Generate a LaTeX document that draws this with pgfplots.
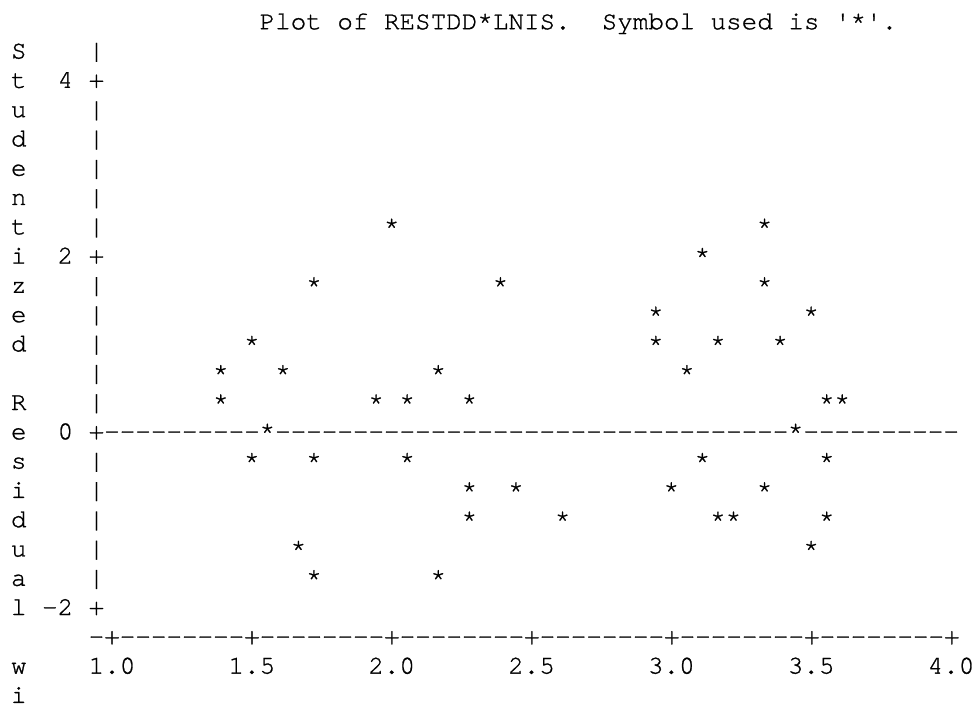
\documentclass[border=0pt]{standalone}
\usepackage{pgfplots}
\pgfplotsset{compat=1.18}
\usepackage{fontspec}
\newfontfamily\mono{TeX Gyre Cursor}[FakeBold=1]
\newcommand{\mfont}{\mono\fontsize{12.96bp}{15bp}\selectfont}
\tikzset{txt/.style={anchor=base west, inner sep=0pt, outer sep=0pt, font=\mfont, yshift=-3.9bp}}
% column c (0 = x of 1.0, 18 columns per unit), row r (13 = zero line, 3 rows per unit)
\newcommand{\R}[3]{\node[txt] at (axis cs:{1+(#1-0.5)/18},{(13-#2)/3}) {#3};}
\begin{document}
\begin{tikzpicture}
\begin{axis}[
  hide axis, scale only axis, clip=false,
  width=489.5bp, height=353bp,
  xmin=0.5995, xmax=4.1001, ymin=-3.1239, ymax=4.9107,
]
\path (rel axis cs:0,0) rectangle (rel axis cs:1,1);
% title
\R{10}{-1}{Plot of RESTDD*LNIS.~~Symbol used is '*'.}
% vertical label
\R{-6}{0}{S}\R{-6}{1}{t}\R{-6}{2}{u}\R{-6}{3}{d}\R{-6}{4}{e}\R{-6}{5}{n}
\R{-6}{6}{t}\R{-6}{7}{i}\R{-6}{8}{z}\R{-6}{9}{e}\R{-6}{10}{d}
\R{-6}{12}{R}\R{-6}{13}{e}\R{-6}{14}{s}\R{-6}{15}{i}\R{-6}{16}{d}
\R{-6}{17}{u}\R{-6}{18}{a}\R{-6}{19}{l}\R{-6}{21}{w}\R{-6}{22}{i}
% y tick labels
\R{-3}{1}{4}\R{-3}{7}{2}\R{-3}{13}{0}\R{-4}{19}{-2}
% vertical axis
\R{-1}{0}{|}\R{-1}{1}{+}\R{-1}{2}{|}\R{-1}{3}{|}\R{-1}{4}{|}\R{-1}{5}{|}
\R{-1}{6}{|}\R{-1}{7}{+}\R{-1}{8}{|}\R{-1}{9}{|}\R{-1}{10}{|}\R{-1}{11}{|}
\R{-1}{12}{|}\R{-1}{13}{+}\R{-1}{14}{|}\R{-1}{15}{|}\R{-1}{16}{|}\R{-1}{17}{|}
\R{-1}{18}{|}\R{-1}{19}{+}
% zero reference line
\R{0}{13}{----------}
\R{11}{13}{---------------------------------}
\R{45}{13}{----------}
% horizontal axis
\R{-1}{20}{-+--------+--------+--------+--------+--------+--------+}
\R{-1}{21}{1.0}\R{8}{21}{1.5}\R{17}{21}{2.0}\R{26}{21}{2.5}
\R{35}{21}{3.0}\R{44}{21}{3.5}\R{53}{21}{4.0}
% data
\addplot[only marks, mark=text, text mark={*}, text mark as node=true,
  text mark style={anchor=base, inner sep=0pt, outer sep=0pt, font=\mfont, yshift=-3.9bp}]
coordinates {
(2.0000,2.3333) (3.3333,2.3333)
(3.1111,2.0000)
(1.7222,1.6667) (2.3889,1.6667) (3.3333,1.6667)
(2.9444,1.3333) (3.5000,1.3333)
(1.5000,1.0000) (2.9444,1.0000) (3.1667,1.0000) (3.3889,1.0000)
(1.3889,0.6667) (1.6111,0.6667) (2.1667,0.6667) (3.0556,0.6667)
(1.3889,0.3333) (1.9444,0.3333) (2.0556,0.3333) (2.2778,0.3333) (3.5556,0.3333) (3.6111,0.3333)
(1.5556,0) (3.4444,0)
(1.5000,-0.3333) (1.7222,-0.3333) (2.0556,-0.3333) (3.1111,-0.3333) (3.5556,-0.3333)
(2.2778,-0.6667) (2.4444,-0.6667) (3.0000,-0.6667) (3.3333,-0.6667)
(2.2778,-1.0000) (2.6111,-1.0000) (3.1667,-1.0000) (3.2222,-1.0000) (3.5556,-1.0000)
(1.6667,-1.3333) (3.5000,-1.3333)
(1.7222,-1.6667) (2.1667,-1.6667)
};
\end{axis}
\end{tikzpicture}
\end{document}
